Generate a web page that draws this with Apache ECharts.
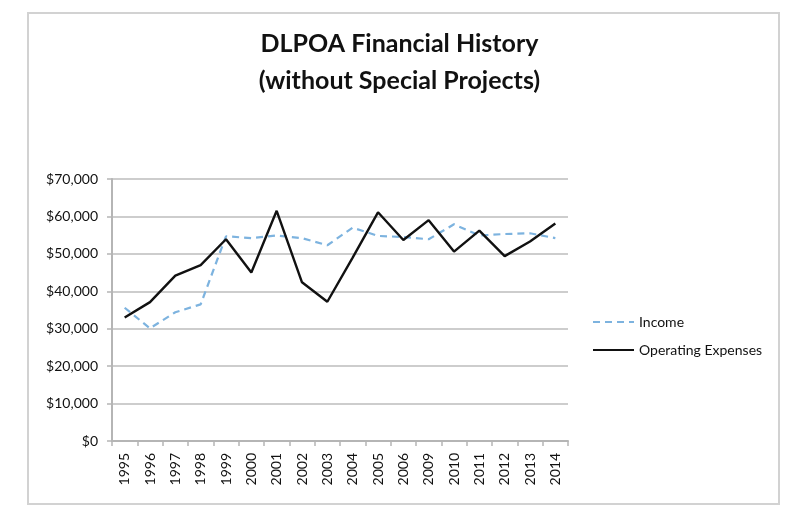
<!DOCTYPE html>
<html>
<head>
<meta charset="utf-8">
<script src="https://cdn.jsdelivr.net/npm/echarts@6/dist/echarts.min.js"></script>
<style>
html,body{margin:0;padding:0;background:#fff;}
#chart{width:799px;height:522px;}
</style>
</head>
<body>
<div id="chart"></div>
<script>
const years = ['1995','1996','1997','1998','1999','2000','2001','2002','2003','2004','2005','2006','2009','2010','2011','2012','2013','2014'];
const income = [35600, 30100, 34400, 36500, 54700, 54200, 54900, 54200, 52300, 57000, 54800, 54500, 53900, 57900, 54900, 55300, 55500, 54200];
const expenses = [33000, 37100, 44200, 47000, 53900, 45000, 61500, 42400, 37200, 49000, 61100, 53700, 59000, 50600, 56200, 49400, 53300, 58100];
const yTicks = [0, 10000, 20000, 30000, 40000, 50000, 60000, 70000];

const FONT = 'Lato, "Open Sans", sans-serif';
const chart = echarts.init(document.getElementById('chart'), null, {renderer: 'canvas'});
chart.setOption({
  backgroundColor: '#ffffff',
  animation: false,
  graphic: [{
    type: 'rect',
    shape: {x: 28, y: 13, width: 751, height: 491},
    style: {fill: 'none', stroke: '#d2d2d2', lineWidth: 2}
  }],
  title: {
    text: 'DLPOA Financial History\n(without Special Projects)',
    left: 'center',
    top: 20,
    textStyle: {fontFamily: FONT, fontSize: 25, fontWeight: 'bold', color: '#111', lineHeight: 37}
  },
  legend: {
    orient: 'vertical',
    left: 592,
    top: 315,
    itemWidth: 41,
    itemHeight: 10,
    itemGap: 14,
    padding: 0,
    itemStyle: {opacity: 0},
    textStyle: {fontFamily: FONT, fontSize: 14, color: '#111'},
    data: ['Income', 'Operating Expenses']
  },
  grid: {left: 112, right: 231, top: 179, bottom: 81, containLabel: false},
  xAxis: {
    type: 'category',
    data: years,
    boundaryGap: true,
    axisLine: {lineStyle: {color: '#b5b5b5', width: 2}},
    axisTick: {show: true, length: 5, alignWithLabel: false, lineStyle: {color: '#b5b5b5', width: 1.5}},
    axisLabel: {rotate: 90, margin: 12, fontFamily: FONT, fontSize: 14, color: '#111', interval: 0}
  },
  yAxis: {
    type: 'value',
    min: yTicks[0],
    max: yTicks[yTicks.length - 1],
    interval: 10000,
    axisLine: {show: true, lineStyle: {color: '#b5b5b5', width: 2}},
    axisTick: {show: true, length: 5, lineStyle: {color: '#b5b5b5', width: 1.5}},
    splitLine: {lineStyle: {color: '#bdbdbd', width: 1.5}},
    axisLabel: {
      margin: 14,
      fontFamily: FONT, fontSize: 14, color: '#111',
      formatter: v => '$' + v.toLocaleString('en-US')
    }
  },
  series: [
    {
      name: 'Income',
      type: 'line',
      data: income,
      symbol: 'none',
      lineStyle: {color: '#7db3df', width: 2.2, type: [7, 5]},
      itemStyle: {color: '#7db3df'},
      z: 2
    },
    {
      name: 'Operating Expenses',
      type: 'line',
      data: expenses,
      symbol: 'none',
      lineStyle: {color: '#111111', width: 2.4},
      itemStyle: {color: '#111111'},
      z: 3
    }
  ]
});
</script>
</body>
</html>
